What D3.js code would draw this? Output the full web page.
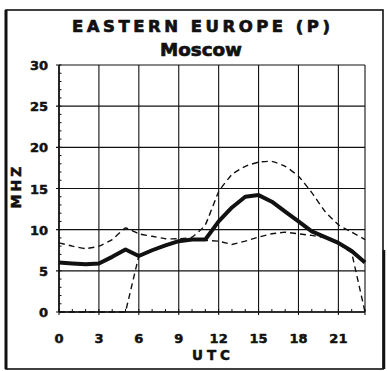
<!DOCTYPE html>
<html>
<head>
<meta charset="utf-8">
<script src="https://cdn.jsdelivr.net/npm/d3@7"></script>
<style>
  html, body { margin: 0; padding: 0; background: #fff; }
  svg { display: block; }
</style>
</head>
<body>
<svg id="chart" width="387" height="371"></svg>
<script>
// Hourly propagation frequencies (MHz), UTC 0..23
const hours = d3.range(0, 24);
const median = [6.0, 5.9, 5.8, 5.9, 6.7, 7.6, 6.8, 7.5, 8.1, 8.6, 8.8, 8.8,
                11.0, 12.7, 14.0, 14.2, 13.4, 12.2, 11.0, 9.8, 9.1, 8.4, 7.4, 6.0];
const upper  = [8.4, 8.0, 7.7, 8.0, 8.8, 10.2, 9.5, 9.2, 8.9, 8.9, 9.1, 10.6,
                14.6, 16.7, 17.7, 18.2, 18.3, 17.7, 16.5, 14.5, 12.2, 10.6, 9.7, 8.8];
const lower  = [0, 0, 0, 0, 0, 0, 6.8, 7.5, 8.1, 8.6, 8.7, 8.7,
                8.6, 8.2, 8.6, 9.1, 9.5, 9.7, 9.5, 9.3, 9.0, 8.3, 7.2, 0];
const xTickLabels = [0, 3, 6, 9, 12, 15, 18, 21];
const yTickLabels = [0, 5, 10, 15, 20, 25, 30];

const title = "EASTERN EUROPE (P)";
const subtitle = "Moscow";

const svg = d3.select("#chart");
const ink = "#111";
const font = "'DejaVu Sans', sans-serif";

// Heavy lettering: bold face plus a thin outline in the same ink
function heavy(sel, w) {
  return sel.attr("font-family", font).attr("font-weight", "bold")
    .attr("fill", ink).attr("stroke", ink).attr("stroke-width", w)
    .attr("stroke-linejoin", "round");
}

const x = d3.scaleLinear().domain([0, 23]).range([59, 365]);
const y = d3.scaleLinear().domain([0, 30]).range([312, 65]);

// Outer frame
svg.append("rect").attr("x", 6).attr("y", 10).attr("width", 377).attr("height", 359)
  .attr("fill", "none").attr("stroke", ink).attr("stroke-width", 1.6);
svg.append("line").attr("x1", 6).attr("x2", 6).attr("y1", 10).attr("y2", 369)
  .attr("stroke", ink).attr("stroke-width", 3);
svg.append("line").attr("x1", 384).attr("x2", 384).attr("y1", 250).attr("y2", 369)
  .attr("stroke", ink).attr("stroke-width", 2.5);

// Titles
heavy(svg.append("text").attr("x", 72).attr("y", 32)
  .attr("textLength", 258).attr("lengthAdjust", "spacing")
  .attr("font-size", 16.5), 0.7).text(title);
heavy(svg.append("text").attr("x", 160).attr("y", 56)
  .attr("textLength", 82).attr("lengthAdjust", "spacingAndGlyphs")
  .attr("font-size", 17.5), 0.7).text(subtitle);

// Grid
const g = svg.append("g");
g.selectAll(".vg").data(xTickLabels.concat([23])).join("line")
  .attr("x1", d => x(d)).attr("x2", d => x(d))
  .attr("y1", y(30)).attr("y2", y(0) + 3)
  .attr("stroke", ink).attr("stroke-width", 1.1);
g.selectAll(".hg").data(yTickLabels).join("line")
  .attr("x1", x(0) - 3).attr("x2", x(23))
  .attr("y1", d => y(d)).attr("y2", d => y(d))
  .attr("stroke", ink).attr("stroke-width", 1.1);

// Axis lines
g.append("line").attr("x1", x(0)).attr("x2", x(0)).attr("y1", y(30)).attr("y2", y(0))
  .attr("stroke", ink).attr("stroke-width", 1.6);
g.append("line").attr("x1", x(0)).attr("x2", x(23)).attr("y1", y(0)).attr("y2", y(0))
  .attr("stroke", ink).attr("stroke-width", 1.6);

// Minor ticks: every hour, every MHz
g.selectAll(".mx").data(hours).join("line")
  .attr("x1", d => x(d)).attr("x2", d => x(d))
  .attr("y1", y(0)).attr("y2", y(0) - 3)
  .attr("stroke", ink).attr("stroke-width", 1);
g.selectAll(".my").data(d3.range(0, 31)).join("line")
  .attr("x1", x(0)).attr("x2", x(0) + 2.5)
  .attr("y1", d => y(d)).attr("y2", d => y(d))
  .attr("stroke", ink).attr("stroke-width", 1);

// Tick labels
heavy(svg.selectAll(".yl").data(yTickLabels).join("text")
  .attr("x", 48).attr("y", d => y(d) + 5)
  .attr("text-anchor", "end").attr("font-size", 13), 0.5).text(d => d);
heavy(svg.selectAll(".xl").data(xTickLabels).join("text")
  .attr("x", d => x(d)).attr("y", 343)
  .attr("text-anchor", "middle").attr("font-size", 13), 0.5).text(d => d);

// Axis titles
heavy(svg.append("text").attr("x", 213).attr("y", 360)
  .attr("text-anchor", "middle").attr("letter-spacing", 4)
  .attr("font-size", 13.5), 0.5).text("UTC");
heavy(svg.append("text")
  .attr("transform", "translate(21,186) rotate(-90)")
  .attr("text-anchor", "middle").attr("letter-spacing", 3)
  .attr("font-size", 14), 0.5).text("MHZ");

// Curves
const line = d3.line().x((d, i) => x(hours[i])).y(d => y(d)).curve(d3.curveCardinal.tension(0.6));
const lineStraight = d3.line().x((d, i) => x(hours[i])).y(d => y(d));

svg.append("path").attr("d", line(upper))
  .attr("fill", "none").attr("stroke", ink).attr("stroke-width", 1.4)
  .attr("stroke-dasharray", "6,4");
svg.append("path").attr("d", lineStraight(lower))
  .attr("fill", "none").attr("stroke", ink).attr("stroke-width", 1.4)
  .attr("stroke-dasharray", "6,4");
svg.append("path").attr("d", lineStraight(median))
  .attr("fill", "none").attr("stroke", ink).attr("stroke-width", 4)
  .attr("stroke-linejoin", "round");
</script>
</body>
</html>
